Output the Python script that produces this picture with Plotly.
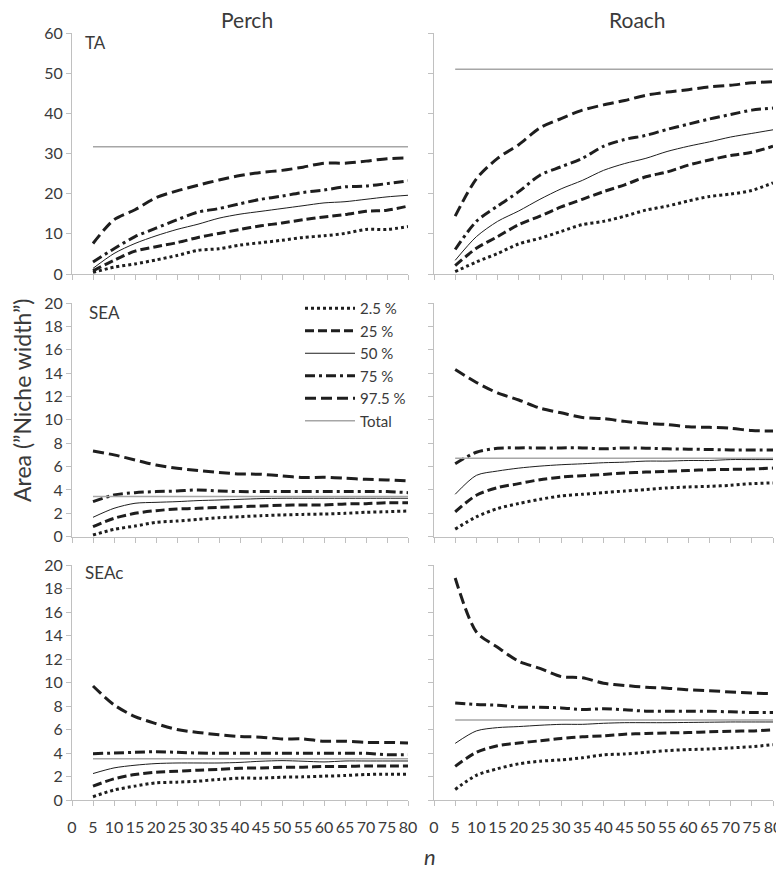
import plotly.graph_objects as go

# sample size n
n = [5, 10, 15, 20, 25, 30, 35, 40, 45, 50, 55, 60, 65, 70, 75, 80]
percentiles = ["2.5 %", "25 %", "50 %", "75 %", "97.5 %"]

# ---- TA ----
perch_ta_p2_5 = [0.4, 1.7, 2.5, 3.5, 4.6, 5.9, 6.3, 7.2, 7.8, 8.4, 9.1, 9.5, 10.1, 11.1, 11.1, 11.8]
perch_ta_p25 = [0.8, 3.4, 5.7, 6.8, 7.8, 9.1, 10.1, 11.1, 12.0, 12.7, 13.5, 14.2, 14.8, 15.6, 15.9, 16.9]
perch_ta_p50 = [1.4, 5.1, 7.6, 9.5, 11.1, 12.4, 13.9, 14.9, 15.6, 16.3, 17.0, 17.7, 18.0, 18.6, 19.2, 19.6]
perch_ta_p75 = [3.0, 6.3, 9.3, 11.4, 13.5, 15.4, 16.3, 17.5, 18.6, 19.4, 20.3, 20.9, 21.7, 21.9, 22.5, 23.2]
perch_ta_p97_5 = [7.6, 13.5, 16.0, 19.0, 20.7, 22.1, 23.4, 24.5, 25.3, 25.8, 26.6, 27.6, 27.6, 28.1, 28.7, 28.9]
perch_ta_total = 31.7

roach_ta_p2_5 = [0.6, 3.0, 5.1, 7.5, 8.9, 10.6, 12.3, 13.1, 14.4, 15.9, 16.9, 18.2, 19.3, 19.9, 20.8, 22.7]
roach_ta_p25 = [2.1, 6.4, 9.3, 12.3, 14.4, 16.7, 18.6, 20.5, 22.2, 24.2, 25.4, 27.1, 28.4, 29.5, 30.3, 31.8]
roach_ta_p50 = [3.4, 9.3, 13.1, 15.7, 18.6, 21.2, 23.3, 25.8, 27.5, 28.8, 30.5, 31.8, 32.9, 34.1, 35.0, 35.9]
roach_ta_p75 = [6.1, 13.1, 16.9, 20.5, 24.6, 26.7, 28.8, 31.8, 33.5, 34.5, 36.0, 37.3, 38.6, 39.7, 40.8, 41.3]
roach_ta_p97_5 = [14.4, 23.7, 28.8, 32.2, 36.4, 38.7, 40.8, 42.1, 43.2, 44.5, 45.3, 45.9, 46.6, 47.0, 47.6, 47.9]
roach_ta_total = 51.0

# ---- SEA ----
perch_sea_p2_5 = [0.14, 0.63, 0.91, 1.23, 1.34, 1.49, 1.63, 1.71, 1.80, 1.86, 1.91, 1.94, 2.00, 2.09, 2.14, 2.20]
perch_sea_p25 = [0.86, 1.57, 2.00, 2.23, 2.37, 2.43, 2.51, 2.57, 2.63, 2.69, 2.71, 2.71, 2.80, 2.83, 2.91, 2.91]
perch_sea_p50 = [1.66, 2.43, 2.86, 2.94, 3.00, 3.09, 3.14, 3.20, 3.26, 3.29, 3.29, 3.29, 3.29, 3.29, 3.29, 3.29]
perch_sea_p75 = [3.00, 3.57, 3.77, 3.86, 3.91, 4.00, 3.91, 3.86, 3.86, 3.86, 3.86, 3.86, 3.86, 3.86, 3.86, 3.77]
perch_sea_p97_5 = [7.34, 7.00, 6.57, 6.14, 5.86, 5.66, 5.49, 5.37, 5.34, 5.20, 5.06, 5.09, 5.00, 4.91, 4.86, 4.77]
perch_sea_total = 3.43

roach_sea_p2_5 = [0.65, 1.70, 2.41, 2.84, 3.20, 3.49, 3.63, 3.77, 3.91, 4.03, 4.17, 4.26, 4.31, 4.40, 4.54, 4.60]
roach_sea_p25 = [2.13, 3.55, 4.20, 4.54, 4.88, 5.10, 5.22, 5.33, 5.45, 5.53, 5.59, 5.67, 5.73, 5.76, 5.79, 5.87]
roach_sea_p50 = [3.63, 5.25, 5.62, 5.87, 6.04, 6.16, 6.24, 6.33, 6.38, 6.47, 6.47, 6.52, 6.52, 6.60, 6.60, 6.60]
roach_sea_p75 = [6.24, 7.23, 7.57, 7.60, 7.60, 7.60, 7.60, 7.52, 7.60, 7.57, 7.52, 7.49, 7.46, 7.43, 7.43, 7.43]
roach_sea_p97_5 = [14.3, 13.2, 12.3, 11.7, 11.0, 10.6, 10.2, 10.1, 9.87, 9.70, 9.60, 9.40, 9.36, 9.28, 9.08, 9.05]
roach_sea_total = 6.72

# ---- SEAc ----
perch_seac_p2_5 = [0.28, 0.85, 1.18, 1.46, 1.52, 1.60, 1.75, 1.86, 1.86, 1.94, 1.97, 2.03, 2.08, 2.17, 2.20, 2.20]
perch_seac_p25 = [1.18, 1.80, 2.17, 2.37, 2.45, 2.54, 2.60, 2.70, 2.73, 2.79, 2.79, 2.85, 2.85, 2.90, 2.90, 2.90]
perch_seac_p50 = [2.25, 2.73, 2.96, 3.10, 3.15, 3.15, 3.15, 3.20, 3.30, 3.35, 3.30, 3.24, 3.32, 3.32, 3.32, 3.32]
perch_seac_p75 = [3.94, 4.00, 4.06, 4.11, 4.06, 4.00, 3.97, 3.97, 3.97, 3.97, 3.97, 3.97, 3.97, 3.97, 3.86, 3.86]
perch_seac_p97_5 = [9.7, 8.1, 7.1, 6.5, 6.0, 5.75, 5.55, 5.40, 5.35, 5.20, 5.20, 5.00, 5.00, 4.90, 4.90, 4.85]
perch_seac_total = 3.52

roach_seac_p2_5 = [0.90, 2.10, 2.66, 3.08, 3.30, 3.42, 3.59, 3.84, 3.92, 4.06, 4.20, 4.29, 4.34, 4.43, 4.54, 4.71]
roach_seac_p25 = [2.86, 4.06, 4.62, 4.85, 5.04, 5.24, 5.38, 5.46, 5.60, 5.66, 5.71, 5.74, 5.80, 5.85, 5.88, 5.97]
roach_seac_p50 = [4.82, 5.88, 6.16, 6.25, 6.36, 6.44, 6.44, 6.53, 6.58, 6.58, 6.58, 6.60, 6.62, 6.64, 6.64, 6.64]
roach_seac_p75 = [8.26, 8.12, 8.07, 7.90, 7.90, 7.84, 7.70, 7.76, 7.68, 7.56, 7.56, 7.56, 7.56, 7.50, 7.45, 7.45]
roach_seac_p97_5 = [18.9, 14.3, 13.0, 11.8, 11.2, 10.5, 10.4, 9.94, 9.75, 9.60, 9.52, 9.38, 9.30, 9.19, 9.10, 9.05]
roach_seac_total = 6.80

# y axis settings per row
y_ranges = [[0, 60], [0, 20], [0, 20]]
y_dticks = [10, 2, 2]
panel_labels = ["TA", "SEA", "SEAc"]
col_titles = ["Perch", "Roach"]

panels = [
    (0, 0, [perch_ta_p2_5, perch_ta_p25, perch_ta_p50, perch_ta_p75, perch_ta_p97_5], perch_ta_total),
    (0, 1, [roach_ta_p2_5, roach_ta_p25, roach_ta_p50, roach_ta_p75, roach_ta_p97_5], roach_ta_total),
    (1, 0, [perch_sea_p2_5, perch_sea_p25, perch_sea_p50, perch_sea_p75, perch_sea_p97_5], perch_sea_total),
    (1, 1, [roach_sea_p2_5, roach_sea_p25, roach_sea_p50, roach_sea_p75, roach_sea_p97_5], roach_sea_total),
    (2, 0, [perch_seac_p2_5, perch_seac_p25, perch_seac_p50, perch_seac_p75, perch_seac_p97_5], perch_seac_total),
    (2, 1, [roach_seac_p2_5, roach_seac_p25, roach_seac_p50, roach_seac_p75, roach_seac_p97_5], roach_seac_total),
]

BLACK = "#1e1e1e"
GRAY = "#a6a6a6"
AXIS = "#c0c0c0"
TEXT = "#3a3a3a"
FONT = "Lato"

line_styles = [
    dict(color=BLACK, width=3, dash="3px,3px"),
    dict(color=BLACK, width=3, dash="9px,4px"),
    dict(color=BLACK, width=1, dash="solid"),
    dict(color=BLACK, width=3, dash="10px,4px,3px,4px"),
    dict(color=BLACK, width=3, dash="11px,5px"),
]
total_style = dict(color=GRAY, width=1.5)

# the page has an 8px body margin, so the figure starts at (8, 8) in the window
OFF = 8
W, H = 776, 863


def px(xp):
    return (xp - OFF) / W


def py(yp):
    return 1 - (yp - OFF) / H


x_domains = [[px(72), px(408)], [px(434), px(773)]]
y_domains = [[py(274), py(33)], [py(536.7), py(303)], [py(800), py(565)]]

fig = go.Figure()
layout = {}

for idx, (r, c, series, total) in enumerate(panels):
    k = idx + 1
    xa = "x" if k == 1 else f"x{k}"
    ya = "y" if k == 1 else f"y{k}"
    show_leg = (r == 1 and c == 0)
    for name, vals, st in zip(percentiles, series, line_styles):
        fig.add_trace(go.Scatter(
            x=n, y=vals, mode="lines", name=name, line=dict(**st, shape="spline", smoothing=0.8),
            xaxis=xa, yaxis=ya, showlegend=show_leg, legendgroup=name))
    fig.add_trace(go.Scatter(
        x=[n[0], n[-1]], y=[total, total], mode="lines", name="Total", line=total_style,
        xaxis=xa, yaxis=ya, showlegend=show_leg, legendgroup="Total"))

    xkey = "xaxis" if k == 1 else f"xaxis{k}"
    ykey = "yaxis" if k == 1 else f"yaxis{k}"
    layout[xkey] = dict(
        domain=x_domains[c], anchor=ya, range=[0, 80], tickmode="linear", tick0=0, dtick=5,
        showline=True, linecolor=AXIS, linewidth=1, ticks="outside", ticklen=5, tickcolor=AXIS,
        showgrid=False, zeroline=False, showticklabels=(r == 2), tickangle=0,
        ticklabeloverflow="allow",
        tickfont=dict(family=FONT, size=16, color=TEXT), ticklabelstandoff=8)
    layout[ykey] = dict(
        domain=y_domains[r], anchor=xa, range=y_ranges[r], tickmode="linear", tick0=0, dtick=y_dticks[r],
        showline=True, linecolor=AXIS, linewidth=1, ticks="outside", ticklen=5, tickcolor=AXIS,
        showgrid=False, zeroline=False, showticklabels=(c == 0),
        tickfont=dict(family=FONT, size=16, color=TEXT))

annotations = []
label_pos = [(83, 42), (87, 312), (83, 572)]
for lbl, (lx, ly) in zip(panel_labels, label_pos):
    annotations.append(dict(text=lbl, x=px(lx), y=py(ly), xref="paper", yref="paper",
                            xanchor="left", yanchor="middle", showarrow=False,
                            font=dict(family=FONT, size=17, color=TEXT)))
for t, tx in zip(col_titles, [247, 637]):
    annotations.append(dict(text=t, x=px(tx), y=py(19), xref="paper", yref="paper",
                            xanchor="center", yanchor="middle", showarrow=False,
                            font=dict(family=FONT, size=21, color=TEXT)))
annotations.append(dict(text="Area (\u201dNiche width\u201d)", x=px(22), y=py(401), xref="paper", yref="paper",
                        xanchor="center", yanchor="middle", textangle=-90, showarrow=False,
                        font=dict(family=FONT, size=23, color=TEXT)))
annotations.append(dict(text="<i>n</i>", x=px(430), y=py(856), xref="paper", yref="paper",
                        xanchor="center", yanchor="middle", showarrow=False,
                        font=dict(family=FONT, size=22, color=TEXT)))

fig.update_layout(
    **layout,
    width=W, height=H,
    margin=dict(l=0, r=0, t=0, b=0, autoexpand=False),
    paper_bgcolor="white", plot_bgcolor="white",
    showlegend=True,
    legend=dict(x=px(300), y=py(292), xanchor="left", yanchor="top",
                bgcolor="rgba(0,0,0,0)", font=dict(family=FONT, size=15, color=TEXT),
                itemwidth=50, tracegroupgap=3, traceorder="normal"),
    annotations=annotations,
)

fig.write_html("out.html")
